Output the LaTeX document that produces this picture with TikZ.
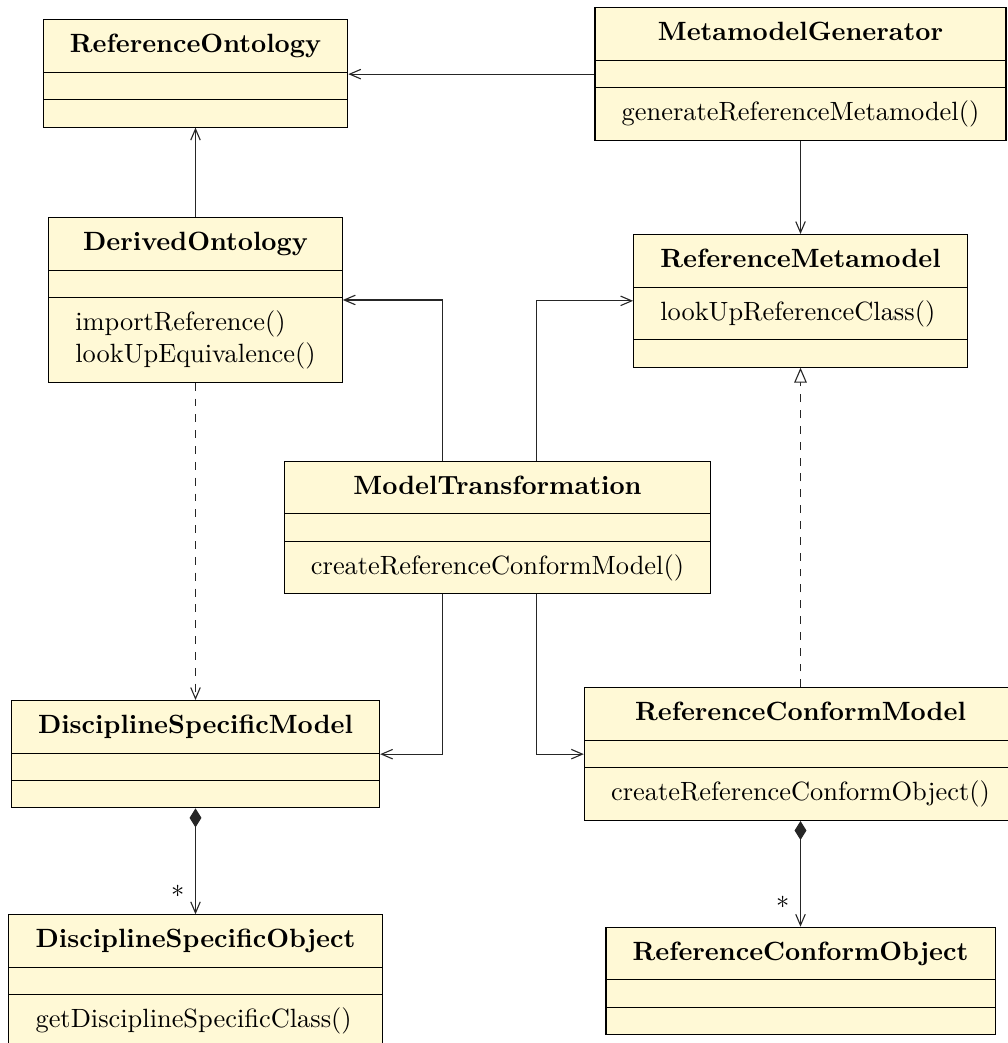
\documentclass[tikz,border=0pt]{standalone}
\usetikzlibrary{shapes.multipart,arrows.meta,calc}

\definecolor{clsfill}{RGB}{255,249,214}

% compartment struts: text lines and empty compartments get fixed heights
\newcommand\cstrut{\rule[-7.3pt]{0pt}{19.52pt}}
\newcommand\estrut{\rule[-4.96pt]{0pt}{9.92pt}}
\newcommand\ctitle[1]{\cstrut\textbf{#1}}
\newcommand\optwo[2]{\vbox{\hbox{\rule[-2.3pt]{0pt}{14.52pt}#1}\hbox{\rule[-7.3pt]{0pt}{14.6pt}#2}}}

\begin{document}
\begin{tikzpicture}[x=0.3788pt,y=-0.3788pt,
  umlclass/.style={rectangle split, rectangle split parts=3, draw=black,
    fill=clsfill, line width=0.42pt, inner xsep=10.1pt, inner ysep=0pt,
    rectangle split part align={center,left,left},
    anchor=north},
  conn/.style={line width=0.42pt, draw=black!85},
  assoc/.style={conn, -{Straight Barb[length=4.2pt,width=3.6pt]}},
  dep/.style={assoc, dashed},
  real/.style={conn, dashed, -{Triangle[open,length=5.7pt,width=4.8pt,fill=white]}},
  comp/.style={conn, {Diamond[length=7.2pt,width=4.5pt]}-{Straight Barb[length=4.2pt,width=3.6pt]}},
  mult/.style={anchor=east, inner sep=4pt}]

\useasboundingbox (0,0) rectangle (1008,1043);
\clip (0,0) rectangle (1008,1043);

% classes
\node[umlclass] (ro) at (195.5,19.3) {\ctitle{ReferenceOntology}\nodepart{two}\estrut\nodepart{three}\estrut};
\node[umlclass] (mg) at (800.5,7.3) {\ctitle{MetamodelGenerator}\nodepart{two}\estrut\nodepart{three}\cstrut generateReferenceMetamodel()};
\node[umlclass] (rm) at (800.5,234) {\ctitle{ReferenceMetamodel}\nodepart{two}\cstrut lookUpReferenceClass()\nodepart{three}\estrut};
\node[umlclass] (do) at (195.5,217.3) {\ctitle{DerivedOntology}\nodepart{two}\estrut\nodepart{three}\optwo{importReference()}{lookUpEquivalence()}};
\node[umlclass] (mt) at (497.5,460.7) {\ctitle{ModelTransformation}\nodepart{two}\estrut\nodepart{three}\cstrut createReferenceConformModel()};
\node[umlclass] (dsm) at (195.5,700) {\ctitle{DisciplineSpecificModel}\nodepart{two}\estrut\nodepart{three}\estrut};
\node[umlclass] (rcm) at (800.5,687.3) {\ctitle{ReferenceConformModel}\nodepart{two}\estrut\nodepart{three}\cstrut createReferenceConformObject()};
\node[umlclass] (dso) at (195.5,914.3) {\ctitle{DisciplineSpecificObject}\nodepart{two}\estrut\nodepart{three}\cstrut getDisciplineSpecificClass()};
\node[umlclass] (rco) at (800.5,926.7) {\ctitle{ReferenceConformObject}\nodepart{two}\estrut\nodepart{three}\estrut};

% associations
\draw[assoc] (mg.west) -- (mg.west -| ro.east);
\draw[assoc] (do) -- (ro);
\draw[assoc] (mg) -- (rm);
\draw[assoc] ($(mt.north)+(-55,0)$) |- (do.east);
\draw[assoc] ($(mt.north)+(39,0)$) |- (rm.west);
\draw[assoc] ($(mt.south)+(-55,0)$) |- (dsm.east);
\draw[assoc] ($(mt.south)+(39,0)$) |- (rcm.west);

% dependency and realization
\draw[dep] (do) -- (dsm);
\draw[real] (rcm) -- (rm);

% compositions
\draw[comp] (dsm) -- node[mult, pos=0.78] {$*$} (dso);
\draw[comp] (rcm) -- node[mult, pos=0.77] {$*$} (rco);

\end{tikzpicture}
\end{document}
